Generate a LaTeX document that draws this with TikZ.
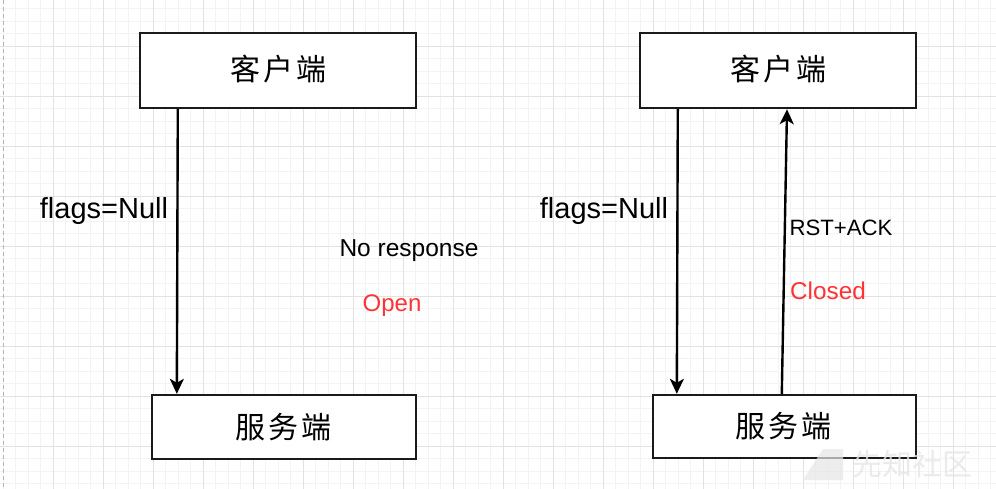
\documentclass[tikz,border=0pt]{standalone}
\usepackage{fontspec}
\setmainfont{Liberation Sans}
\newfontfamily\cjk{Noto Sans CJK SC}
\usetikzlibrary{arrows.meta}
\definecolor{gridminor}{HTML}{F3F3F3}
\definecolor{gridmajor}{HTML}{E2E2E2}
\definecolor{boxline}{HTML}{1A1A1A}
\definecolor{redtxt}{HTML}{FF3333}
\definecolor{wm}{HTML}{E6E6E6}
\tikzset{
  box/.style={draw=boxline, line width=2.4pt, fill=white, inner sep=0pt, anchor=center},
  msg/.style={draw=black, line width=2.4pt, -{Stealth[length=15pt,width=14pt,inset=4pt]}},
  lbl/.style={inner sep=0pt, anchor=base, text=black},
  cjktxt/.style={inner sep=0pt, anchor=center, font=\cjk\fontsize{30}{32}\selectfont},
}
\begin{document}
\begin{tikzpicture}[x=1pt,y=-1pt]
\useasboundingbox (0,0) rectangle (996,489);
\fill[white] (0,0) rectangle (996,489);
% grid
\foreach \i in {0,...,79} {
  \draw[gridminor, line width=0.8pt] ({3.3+12.5*\i},0) -- ({3.3+12.5*\i},489);
}
\foreach \j in {0,...,39} {
  \draw[gridminor, line width=0.8pt] (0,{-4+12.5*\j}) -- (996,{-4+12.5*\j});
}
\foreach \i in {1,...,19} {
  \draw[gridmajor, line width=0.9pt] ({3.3+50*\i},0) -- ({3.3+50*\i},489);
}
\foreach \j in {1,...,9} {
  \draw[gridmajor, line width=0.9pt] (0,{-4+50*\j}) -- (996,{-4+50*\j});
}
\draw[gridmajor!80!black, line width=0.9pt, dash pattern=on 4pt off 3pt] (3.5,0) -- (3.5,489);

% boxes
\node[box, minimum width=276pt, minimum height=75pt] (c1) at (278,70.5) {};
\node[box, minimum width=264pt, minimum height=64pt] (s1) at (284,427) {};
\node[box, minimum width=276pt, minimum height=75pt] (c2) at (778,70.5) {};
\node[box, minimum width=263pt, minimum height=63pt] (s2) at (784.5,426.5) {};

\node[cjktxt] (t1) at ([yshift=1pt]c1.center) {客\hspace{3pt}户\hspace{3pt}端};
\node[cjktxt] (t2) at ([xshift=-1pt]s1.center) {服\hspace{3pt}务\hspace{3pt}端};
\node[cjktxt] (t3) at ([yshift=1pt]c2.center) {客\hspace{3pt}户\hspace{3pt}端};
\node[cjktxt] (t4) at ([xshift=-1pt]s2.center) {服\hspace{3pt}务\hspace{3pt}端};

% connectors
\draw[msg] ([xshift=39pt]c1.south west) -- ([xshift=26pt]s1.north west);
\draw[msg] ([xshift=39pt]c2.south west) -- ([xshift=25pt]s2.north west);
\draw[msg] ([xshift=130pt]s2.north west) -- ([xshift=9pt]c2.south);

% labels (anchored at baseline)
\node[lbl, font=\fontsize{29}{32}\selectfont] (f1) at (104,219) {flags=Null};
\node[lbl, font=\fontsize{29}{32}\selectfont] (f2) at (604,219) {flags=Null};
\node[lbl, font=\fontsize{24.5}{28}\selectfont] (nr) at (409,256) {No response};
\node[lbl, font=\fontsize{24}{28}\selectfont, text=redtxt] (op) at (392,311.5) {Open};
\node[lbl, font=\fontsize{22.2}{26}\selectfont] (ra) at (841,235.5) {RST+ACK};
\node[lbl, font=\fontsize{24.3}{28}\selectfont, text=redtxt] (cl) at (828,299.5) {Closed};

% watermark
\fill[wm, opacity=0.7] (803,480) -- (823,449) -- (843,449) -- (843,480) -- cycle;
\node[inner sep=0pt, font=\cjk\fontsize{30}{32}\selectfont, text=wm, opacity=0.8] (wmk) at (912,464) {先知社区};
\end{tikzpicture}
\end{document}
